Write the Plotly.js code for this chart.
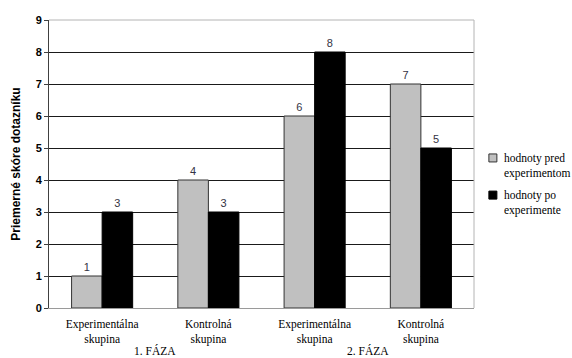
<!DOCTYPE html>
<html>
<head>
<meta charset="utf-8">
<script src="https://cdn.plot.ly/plotly-3.0.1.min.js"></script>
<style>
  html, body { margin: 0; padding: 0; background: #fff; }
  #chart { width: 572px; height: 358px; }
</style>
</head>
<body>
<div id="chart"></div>
<script>
// Questionnaire scores by group and phase
const categories = ['Experimentálna<br>skupina', 'Kontrolná<br>skupina', 'Experimentálna<br>skupina', 'Kontrolná<br>skupina'];
const phases = ['1. FÁZA', '2. FÁZA'];
const seriesNames = ['hodnoty pred<br>experimentom', 'hodnoty po<br>experimente'];
const seriesColors = ['#c0c0c0', '#000000'];
const valuesBefore = [1, 4, 6, 7];
const valuesAfter = [3, 3, 8, 5];
const yTicks = [0, 1, 2, 3, 4, 5, 6, 7, 8, 9];

const xIdx = categories.map((_, i) => i);
const sans = 'Liberation Sans';
const serif = 'Times New Roman';

function barTrace(name, values, fill, edge) {
  return {
    type: 'bar',
    name: name,
    x: xIdx,
    y: values,
    text: values.map(String),
    textposition: 'outside',
    cliponaxis: false,
    textfont: { family: sans, size: 11, color: '#333344' },
    marker: { color: fill, line: { color: edge, width: 1 } },
    hoverinfo: 'skip'
  };
}

const data = [
  barTrace(seriesNames[0], valuesBefore, seriesColors[0], '#333333'),
  barTrace(seriesNames[1], valuesAfter, seriesColors[1], '#000000')
];

// phase labels centered under each pair of categories
const phaseAnnotations = phases.map((p, k) => ({
  text: p,
  x: (xIdx[2 * k] + xIdx[2 * k + 1]) / 2,
  xref: 'x',
  y: 0,
  yref: 'paper',
  yanchor: 'middle',
  yshift: -42,
  borderpad: 0,
  showarrow: false,
  font: { family: serif, size: 11.5, color: '#000' }
}));

// legend drawn beside the plot: swatches + two-line labels
const legendShapes = [];
const legendAnnotations = [];
const legendRows = [0.521, 0.392];   // paper y of each item's first line
seriesNames.forEach((name, i) => {
  const yc = legendRows[i];
  legendShapes.push({
    type: 'rect', xref: 'paper', yref: 'paper',
    x0: 1.035, x1: 1.035 + 8 / 425,
    y0: yc - 4 / 288, y1: yc + 4 / 288,
    fillcolor: seriesColors[i],
    line: { color: i === 0 ? '#333333' : '#000000', width: 1 }
  });
  legendAnnotations.push({
    text: name, xref: 'paper', yref: 'paper',
    x: 1.068, y: yc + 7 / 288, xanchor: 'left', yanchor: 'top', align: 'left',
    borderpad: 0,
    showarrow: false,
    font: { family: serif, size: 11.5, color: '#000' }
  });
});

const layout = {
  width: 572,
  height: 358,
  margin: { l: 49, r: 98, t: 20, b: 50 },
  paper_bgcolor: '#fff',
  plot_bgcolor: '#fff',
  barmode: 'group',
  bargap: 0.425,
  bargroupgap: 0,
  showlegend: false,
  xaxis: {
    range: [-0.5, 3.5],
    tickvals: xIdx,
    ticktext: categories,
    tickfont: { family: serif, size: 11.5, color: '#000' },
    ticklabelstandoff: 5,
    showgrid: false,
    zeroline: false,
    showline: true,
    linecolor: '#9a9a9a',
    linewidth: 1,
    ticks: ''
  },
  yaxis: {
    range: [0, 9],
    tickvals: yTicks,
    tickfont: { family: sans, size: 11, color: '#000', weight: 'bold' },
    showgrid: true,
    gridcolor: '#1a1a1a',
    gridwidth: 1,
    zeroline: false,
    showline: true,
    linecolor: '#404040',
    linewidth: 1,
    ticks: 'outside',
    ticklen: 4,
    tickcolor: '#404040',
    title: {
      text: 'Priemerné skóre dotazníku',
      font: { family: sans, size: 12, color: '#000', weight: 'bold' },
      standoff: 12
    }
  },
  shapes: [
    // gray frame on the top and right of the plot area
    { type: 'line', xref: 'paper', yref: 'paper', x0: 0, x1: 1, y0: 1, y1: 1,
      line: { color: '#b4b4b4', width: 1 }, layer: 'above' },
    { type: 'line', xref: 'paper', yref: 'paper', x0: 1, x1: 1, y0: 0, y1: 1,
      line: { color: '#b4b4b4', width: 1 }, layer: 'above' }
  ].concat(legendShapes),
  annotations: phaseAnnotations.concat(legendAnnotations)
};

Plotly.newPlot('chart', data, layout, { displayModeBar: false, staticPlot: true });
</script>
</body>
</html>
